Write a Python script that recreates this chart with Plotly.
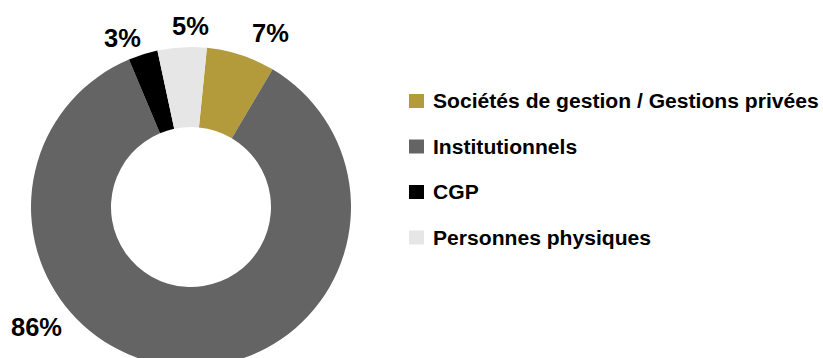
import plotly.graph_objects as go

# Breakdown of holders by category (in %)
labels = ["Sociétés de gestion / Gestions privées", "Institutionnels", "CGP", "Personnes physiques"]
values = [7, 86, 3, 5]
colors = ["#B39A3A", "#646464", "#000000", "#E6E6E6"]

# Canvas and donut geometry (pixels)
W, H = 823, 376
cx, cy, r = 191, 207, 160

FONT = "Liberation Sans, Arial, Helvetica, sans-serif"

fig = go.Figure(
    go.Pie(
        labels=labels,
        values=values,
        hole=0.5,
        sort=False,
        direction="clockwise",
        rotation=5.7,
        marker=dict(colors=colors, line=dict(width=0)),
        textinfo="none",
        showlegend=False,
        hoverinfo="label+value",
        domain=dict(
            x=[(cx - r) / W, (cx + r) / W],
            y=[1 - (cy + r) / H, 1 - (cy - r) / H],
        ),
    )
)

# Percentage labels placed around the ring
label_pos = [(270, 33.5), (36, 327), (122, 38.3), (190.7, 25.8)]
for v, (px, py) in zip(values, label_pos):
    fig.add_annotation(
        x=px / W, y=1 - py / H, xref="paper", yref="paper",
        text=f"{v}%", showarrow=False, xanchor="center", yanchor="middle",
        font=dict(family=FONT, size=25.5, color="#000000", weight="bold"),
    )

# Legend drawn as swatches + text
leg_x, leg_y0, leg_dy, sw = 409, 101, 45.5, 15
for i, (lab, col) in enumerate(zip(labels, colors)):
    yc = leg_y0 + i * leg_dy
    fig.add_shape(
        type="rect", xref="paper", yref="paper",
        x0=leg_x / W, x1=(leg_x + sw) / W,
        y0=1 - (yc + 7) / H, y1=1 - (yc - 7) / H,
        fillcolor=col, line=dict(width=0),
    )
    fig.add_annotation(
        x=(leg_x + 22) / W, y=1 - yc / H, xref="paper", yref="paper",
        text=lab, showarrow=False, xanchor="left", yanchor="middle",
        font=dict(family=FONT, size=21.1, color="#000000", weight="bold"),
    )

fig.update_layout(
    width=W, height=H,
    margin=dict(l=0, r=0, t=0, b=0),
    paper_bgcolor="#FFFFFF",
    plot_bgcolor="#FFFFFF",
    showlegend=False,
)

fig.write_html(
    "out.html",
    post_script="document.body.style.overflow='hidden';document.documentElement.style.overflow='hidden';",
)
